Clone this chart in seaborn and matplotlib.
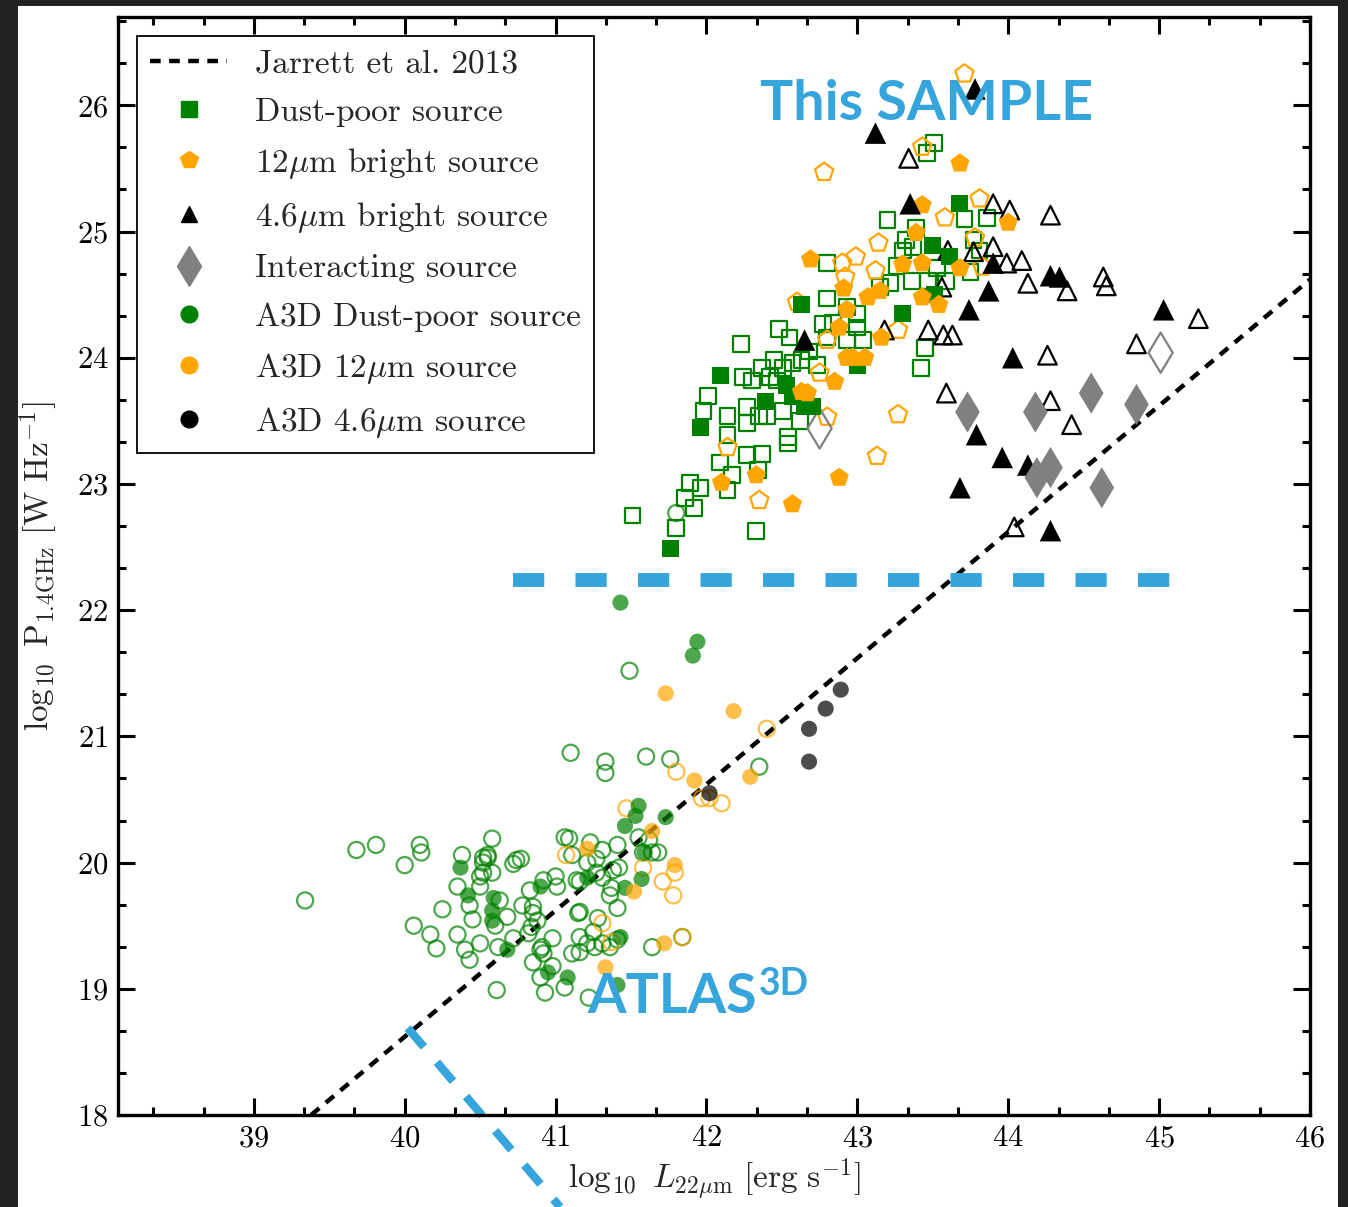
import matplotlib
matplotlib.use("Agg")
import matplotlib.pyplot as plt
from matplotlib.lines import Line2D
from matplotlib.patches import Rectangle
from matplotlib.ticker import MultipleLocator, AutoMinorLocator
import seaborn as sns

# ---------------- data (log10 L22um, log10 P1.4GHz) ----------------
# This sample
dust_poor_filled = [(43.68, 25.22), (43.50, 24.89), (43.61, 24.80), (42.63, 24.42), (43.30, 24.35),
                    (43.51, 24.50), (42.09, 23.86), (41.96, 23.45), (42.53, 23.78), (42.57, 23.69),
                    (42.39, 23.65), (42.65, 23.61), (42.70, 23.61), (41.76, 22.49), (43.00, 23.94)]
dust_poor_open = [(42.23, 24.11), (42.48, 24.23), (42.55, 24.16), (42.01, 23.70), (41.98, 23.58),
                  (42.14, 23.54), (42.24, 23.85), (42.30, 23.82), (42.37, 23.92), (42.42, 23.85),
                  (42.51, 23.92), (42.57, 23.96), (42.63, 23.98), (42.47, 23.82), (42.27, 23.61),
                  (42.27, 23.48), (42.35, 23.54), (42.40, 23.54), (42.14, 23.39), (42.09, 23.17),
                  (42.17, 23.07), (42.27, 23.23), (42.37, 23.24), (42.34, 23.11), (42.54, 23.37),
                  (42.54, 23.32), (42.62, 23.50), (41.89, 23.01), (41.96, 22.97), (41.86, 22.89),
                  (41.92, 22.81), (41.80, 22.65), (41.51, 22.75), (42.33, 22.63), (42.14, 22.95),
                  (42.77, 24.27), (42.80, 24.16), (42.73, 23.94), (42.51, 23.58), (43.46, 25.62),
                  (43.51, 25.70), (43.20, 25.09), (43.71, 25.10), (43.86, 25.11), (43.39, 25.03),
                  (43.32, 24.93), (43.37, 24.88), (43.30, 24.85), (43.26, 24.73), (42.80, 24.75),
                  (42.80, 24.47), (42.84, 24.28), (43.00, 24.35), (43.00, 24.24), (43.75, 24.68),
                  (43.45, 24.08), (43.36, 24.61), (43.47, 24.61), (43.59, 24.61), (43.22, 24.59),
                  (43.15, 24.56), (43.53, 24.71), (43.04, 24.14), (42.93, 24.14), (43.77, 24.93),
                  (43.81, 24.85), (43.42, 23.92), (42.93, 24.40), (42.45, 23.98), (42.68, 24.05)]
bright12_filled = [(43.68, 25.54), (44.00, 25.07), (43.43, 25.21), (43.39, 24.99), (43.68, 24.71),
                   (42.69, 24.78), (43.30, 24.74), (43.43, 24.75), (42.91, 24.55), (43.07, 24.48),
                   (43.15, 24.53), (43.43, 24.48), (43.54, 24.42), (42.93, 24.38), (42.88, 24.24),
                   (43.16, 24.16), (42.63, 23.73), (42.67, 23.72), (42.85, 23.81), (42.93, 24.00),
                   (42.97, 24.00), (43.05, 24.00), (42.10, 23.01), (42.33, 23.07), (42.57, 22.84),
                   (42.88, 23.05)]
bright12_open = [(43.71, 26.25), (42.78, 25.47), (43.43, 25.67), (43.81, 25.26), (43.58, 25.11),
                 (43.78, 24.95), (43.14, 24.91), (43.83, 24.72), (42.99, 24.80), (42.90, 24.75),
                 (42.92, 24.64), (43.12, 24.69), (42.60, 24.44), (42.80, 24.14), (43.27, 24.22),
                 (42.14, 23.29), (42.35, 22.87), (42.80, 23.53), (42.75, 23.88), (43.27, 23.55),
                 (43.13, 23.22)]
bright46_filled = [(43.12, 25.78), (43.78, 26.13), (43.35, 25.22), (42.65, 24.14), (43.90, 24.75),
                   (43.87, 24.53), (43.74, 24.38), (44.03, 24.00), (44.28, 24.65), (44.34, 24.64),
                   (45.03, 24.38), (43.79, 23.39), (43.96, 23.21), (44.13, 23.15), (43.68, 22.97),
                   (44.28, 22.63)]
bright46_open = [(43.34, 25.58), (43.90, 25.22), (44.01, 25.17), (44.28, 25.13), (43.77, 24.84),
                 (43.90, 24.88), (43.99, 24.75), (44.09, 24.77), (44.13, 24.59), (44.39, 24.53),
                 (44.63, 24.64), (44.65, 24.57), (43.56, 24.56), (43.60, 24.85), (43.47, 24.22),
                 (43.57, 24.18), (43.63, 24.18), (44.26, 24.02), (44.85, 24.11), (45.26, 24.31),
                 (43.59, 23.72), (44.28, 23.66), (44.42, 23.47), (44.04, 22.66), (43.18, 24.22)]
interacting_filled = [(43.73, 23.57), (44.18, 23.57), (44.55, 23.72), (44.85, 23.63),
                      (44.19, 23.05), (44.28, 23.13), (44.62, 22.97)]
interacting_open = [(45.01, 24.04), (42.75, 23.44)]

# ATLAS3D
a3d_dust_filled = [(41.43, 22.06), (41.94, 21.75), (41.91, 21.64), (41.55, 20.45), (41.53, 20.37),
                   (41.46, 20.29), (41.73, 20.36), (41.59, 20.08), (41.21, 19.88), (41.57, 19.87),
                   (40.37, 19.96), (40.42, 19.74), (40.59, 19.72), (40.58, 19.62), (40.58, 19.54),
                   (40.90, 19.81), (40.68, 19.31), (40.95, 19.13), (41.08, 19.09), (41.46, 19.80),
                   (41.43, 19.41), (41.41, 19.03)]
a3d_dust_open = [(39.34, 19.70), (39.68, 20.10), (39.81, 20.14), (40.00, 19.98), (40.10, 20.14),
                 (40.11, 20.08), (40.06, 19.50), (40.17, 19.43), (40.21, 19.32), (40.25, 19.63),
                 (40.38, 20.06), (40.58, 20.19), (40.52, 20.04), (40.55, 20.04), (40.52, 19.92),
                 (40.58, 19.92), (40.74, 20.02), (40.72, 19.99), (40.35, 19.81), (40.50, 19.81),
                 (40.35, 19.43), (40.40, 19.31), (40.43, 19.23), (40.45, 19.55), (40.50, 19.36),
                 (40.68, 19.57), (40.63, 19.70), (40.78, 19.66), (40.83, 19.78), (40.85, 19.65),
                 (40.88, 19.54), (40.84, 19.49), (40.92, 19.86), (41.00, 19.89), (41.01, 19.81),
                 (40.98, 19.40), (40.91, 19.33), (40.92, 19.28), (40.85, 19.21), (40.61, 18.99),
                 (40.93, 18.97), (41.06, 19.01), (40.90, 19.09), (41.06, 20.20), (41.09, 20.19),
                 (41.14, 19.86), (41.15, 19.60), (41.11, 19.28), (40.62, 19.33), (41.23, 20.16),
                 (41.41, 20.14), (41.31, 20.10), (41.21, 20.00), (41.27, 19.92), (41.38, 19.94),
                 (41.42, 19.96), (41.58, 20.08), (41.64, 20.08), (41.55, 20.20), (41.16, 19.85),
                 (41.31, 19.88), (41.37, 19.80), (41.36, 19.74), (41.41, 19.64), (41.16, 19.61),
                 (41.28, 19.56), (41.25, 19.45), (41.21, 19.36), (41.16, 19.29), (41.26, 19.33),
                 (41.31, 19.36), (41.41, 19.39), (41.36, 19.33), (41.16, 19.41), (40.85, 19.60),
                 (40.82, 19.44), (40.90, 19.31), (40.50, 19.89), (40.52, 20.00), (40.55, 20.06),
                 (40.77, 20.03), (41.10, 20.87), (41.33, 20.80), (41.33, 20.71), (41.60, 20.84),
                 (41.76, 20.82), (41.49, 21.52), (42.35, 20.76), (41.62, 20.18), (41.11, 20.06),
                 (41.27, 20.03), (41.64, 19.33), (41.68, 20.08), (41.84, 19.41), (41.80, 22.77),
                 (40.60, 19.50), (40.72, 19.40), (40.98, 19.18), (40.43, 19.66), (41.22, 18.93)]
a3d_12_filled = [(41.73, 21.34), (42.18, 21.20), (42.29, 20.68), (41.92, 20.65), (41.64, 20.25),
                 (41.79, 19.98), (41.52, 19.77), (41.72, 19.36), (41.33, 19.17), (41.21, 20.11)]
a3d_12_open = [(42.40, 21.06), (41.80, 20.72), (41.97, 20.51), (42.02, 20.51), (42.10, 20.47),
               (41.47, 20.43), (41.07, 20.06), (41.58, 19.96), (41.79, 19.92), (41.71, 19.85),
               (41.78, 19.74), (41.31, 19.52), (41.37, 19.37), (41.84, 19.41)]
a3d_46_filled = [(42.02, 20.55), (42.68, 20.80), (42.68, 21.06), (42.79, 21.22), (42.89, 21.37)]

# reference lines
jarrett_x = [39.38, 46.0]
jarrett_y = [18.0, 24.62]
sample_cut_x = [40.72, 45.08]
sample_cut_y = [22.24, 22.24]
atlas_cut_x = [40.02, 41.03]
atlas_cut_y = [18.69, 17.27]

legend_labels = ["Jarrett et al. 2013", "Dust-poor source", r"12$\mu$m bright source",
                 r"4.6$\mu$m bright source", "Interacting source", "A3D Dust-poor source",
                 r"A3D 12$\mu$m source", r"A3D 4.6$\mu$m source"]

# ---------------- style ----------------
sns.set_style("ticks")
plt.rcParams.update({
    "font.family": "serif",
    "font.serif": ["cmr10", "DejaVu Serif"],
    "mathtext.fontset": "cm",
    "axes.formatter.use_mathtext": True,
    "axes.unicode_minus": False,
})

GREEN = "#008000"
ORANGE = "#FFA500"
GRAY = "#808080"
BLUE = "#36a5dc"

W, H = 1348, 1207
fig = plt.figure(figsize=(W / 100, H / 100), dpi=100)
fig.patch.set_facecolor("#222222")
fig.add_artist(Rectangle((18 / W, 0), (1338 - 18) / W, (H - 6) / H, transform=fig.transFigure,
                         facecolor="white", edgecolor="none", zorder=-5))
ax = fig.add_axes([118 / W, 1 - 1115 / H, (1310 - 118) / W, (1115 - 17) / H])
ax.set_facecolor("white")


def unzip(pts):
    return [p[0] for p in pts], [p[1] for p in pts]


def scat(pts, marker, s, face, edge, lw=0.0, alpha=1.0, z=3):
    x, y = unzip(pts)
    kw = dict(marker=marker, s=s, linewidth=lw, alpha=alpha, zorder=z, ax=ax, legend=False)
    if face == "none":
        sns.scatterplot(x=x, y=y, facecolor="none", edgecolor=edge, **kw)
    else:
        sns.scatterplot(x=x, y=y, color=face, edgecolor=edge, **kw)


# reference lines
sns.lineplot(x=jarrett_x, y=jarrett_y, color="black", lw=3.2, ax=ax, zorder=2,
             linestyle=(0, (2.4, 1.9)))
ax.plot(sample_cut_x, sample_cut_y, color=BLUE, lw=10, linestyle=(0, (2.25, 2.25)),
        solid_capstyle="butt", dash_capstyle="butt", zorder=2)
ax.plot(atlas_cut_x, atlas_cut_y, color=BLUE, lw=6, linestyle=(0, (3.0, 2.4)),
        dash_capstyle="butt", zorder=2, clip_on=False)

# ATLAS3D
scat(a3d_dust_open, "o", 135, "none", GREEN, lw=1.6, alpha=0.7, z=3)
scat(a3d_12_open, "o", 135, "none", ORANGE, lw=1.6, alpha=0.7, z=3)
scat(a3d_dust_filled, "o", 135, GREEN, "none", alpha=0.7, z=4)
scat(a3d_12_filled, "o", 135, ORANGE, "none", alpha=0.7, z=4)
scat(a3d_46_filled, "o", 135, "black", "none", alpha=0.7, z=4)

# This sample
scat(dust_poor_open, "s", 130, "none", GREEN, lw=1.6, z=3)
scat(bright12_open, "p", 190, "none", ORANGE, lw=1.6, z=3)
scat(bright46_open, "^", 180, "none", "black", lw=1.6, z=3)
scat(interacting_open, "d", 420, "none", GRAY, lw=1.6, z=3)
scat(dust_poor_filled, "s", 150, GREEN, "none", z=4)
scat(bright12_filled, "p", 210, ORANGE, "none", z=5)
scat(bright46_filled, "^", 240, "black", "none", z=5)
scat(interacting_filled, "d", 440, GRAY, "none", z=5)

# annotations
ax.text(42.354, 25.88, "This SAMPLE", family="Lato", fontweight="bold", fontsize=40,
        color=BLUE, ha="left", va="baseline", zorder=10)
atlas_txt = ax.text(41.21, 18.81, "ATLAS", family="Lato", fontweight="bold", fontsize=40,
                    color=BLUE, ha="left", va="baseline", zorder=10)
ax.annotate("3D", xy=(1.0, 18.95), xycoords=(atlas_txt, "data"), xytext=(1.5, 0),
            textcoords="offset points", family="Lato", fontweight="bold", fontsize=27,
            color=BLUE, ha="left", va="baseline", zorder=10)

# axes
ax.set_xlim(38.1, 46.0)
ax.set_ylim(18.0, 26.7)
ax.xaxis.set_major_locator(MultipleLocator(1))
ax.yaxis.set_major_locator(MultipleLocator(1))
ax.xaxis.set_minor_locator(AutoMinorLocator(3))
ax.yaxis.set_minor_locator(AutoMinorLocator(3))
ax.tick_params(which="both", direction="in", top=True, right=True, width=2.2, colors="black",
               labelsize=22)
ax.tick_params(which="major", length=12, pad=7)
ax.tick_params(which="minor", length=5.5)
for sp in ax.spines.values():
    sp.set_linewidth(2.4)
    sp.set_color("black")

ax.set_xlabel(r"$\log_{10}\ L_{22\mu\mathrm{m}}\ [\mathrm{erg\ s}^{-1}]$", fontsize=24, labelpad=3)
ax.set_ylabel(r"$\log_{10}\ \mathrm{P}_{1.4\mathrm{GHz}}\ [\mathrm{W\ Hz}^{-1}]$", fontsize=24,
              labelpad=12)

handles = [
    Line2D([], [], color="black", lw=3.2, linestyle=(0, (2.4, 1.9))),
    Line2D([], [], marker="s", color=GREEN, ls="none", ms=12),
    Line2D([], [], marker="p", color=ORANGE, ls="none", ms=13),
    Line2D([], [], marker="^", color="black", ls="none", ms=12),
    Line2D([], [], marker="d", color=GRAY, ls="none", ms=20),
    Line2D([], [], marker="o", color=GREEN, ls="none", ms=12),
    Line2D([], [], marker="o", color=ORANGE, ls="none", ms=12),
    Line2D([], [], marker="o", color="black", ls="none", ms=12),
]
leg = ax.legend(handles, legend_labels, loc="upper left", bbox_to_anchor=(0.0159, 0.9827),
                borderaxespad=0, fontsize=24, frameon=True, fancybox=False, framealpha=1,
                edgecolor="black", borderpad=0.4, labelspacing=0.57, handlelength=2.3,
                handletextpad=0.84)
leg.get_frame().set_linewidth(1.3)

fig.savefig("out.png", dpi=100, facecolor=fig.get_facecolor())
